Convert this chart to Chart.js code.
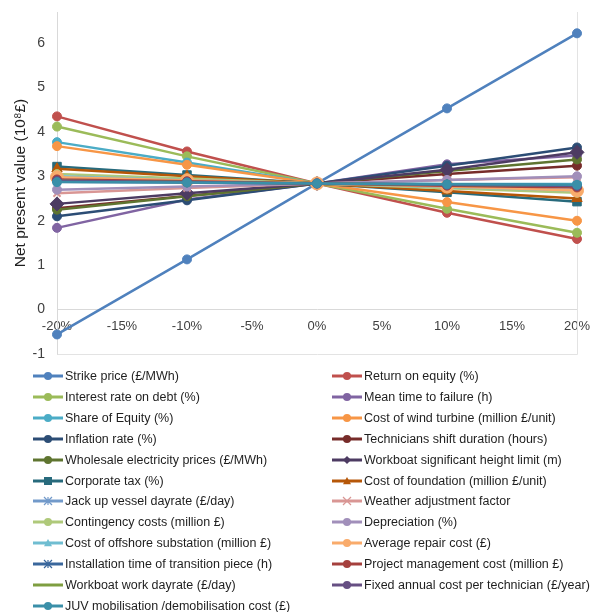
<!DOCTYPE html>
<html>
<head>
<meta charset="utf-8">
<script src="https://cdn.jsdelivr.net/npm/chart.js@4.4.1/dist/chart.umd.min.js"></script>
<style>
  html, body { margin: 0; padding: 0; background: #fff; }
  body { width: 594px; height: 612px; position: relative; overflow: hidden; font-family: "Liberation Sans", Arial, sans-serif; }
  #wrap { position: absolute; left: 0; top: 0; width: 594px; height: 362px; }
  #legend { position: absolute; left: 0; top: 0; width: 594px; height: 612px; pointer-events: none; }
  .item { position: absolute; height: 20px; display: flex; align-items: center; font-size: 12.5px; color: #1e1e1e; white-space: nowrap; }
  .item canvas { width: 30px; height: 14px; margin-right: 2px; }
</style>
</head>
<body>
<div id="wrap"><canvas id="c"></canvas></div>
<div id="legend"></div>
<script>
// ---- Data (x = change of parameter in %, y = net present value in 10^8 £) ----
const changes = [-20, -10, 0, 10, 20];
const xTickValues = [-20, -15, -10, -5, 0, 5, 10, 15, 20];
const yTickValues = [-1, 0, 1, 2, 3, 4, 5, 6];

const strikePrice        = [-0.56, 1.13, 2.84, 4.53, 6.22];
const returnOnEquity     = [4.35, 3.56, 2.84, 2.18, 1.59];
const interestRateDebt   = [4.12, 3.45, 2.84, 2.27, 1.73];
const meanTimeToFailure  = [1.84, 2.48, 2.84, 3.27, 3.47];
const shareOfEquity      = [3.77, 3.31, 2.84, 2.83, 2.83];
const costWindTurbine    = [3.68, 3.26, 2.84, 2.42, 2.00];
const inflationRate      = [2.10, 2.46, 2.84, 3.24, 3.65];
const techShiftDuration  = [2.28, 2.56, 2.84, 3.05, 3.24];
const wholesalePrices    = [2.25, 2.55, 2.84, 3.12, 3.38];
const workboatHeight     = [2.38, 2.62, 2.84, 3.15, 3.54];
const corporateTax       = [3.22, 3.03, 2.84, 2.64, 2.43];
const costFoundation     = [3.17, 3.00, 2.84, 2.67, 2.50];
const jackUpDayrate      = [2.92, 2.88, 2.84, 2.80, 2.76];
const weatherFactor      = [2.62, 2.74, 2.84, 2.92, 2.98];
const contingencyCosts   = [3.05, 2.95, 2.84, 2.73, 2.63];
const depreciation       = [2.70, 2.77, 2.84, 2.92, 3.00];
const costSubstation     = [3.00, 2.92, 2.84, 2.76, 2.68];
const avgRepairCost      = [2.98, 2.91, 2.84, 2.77, 2.68];
const installTimeTP      = [2.88, 2.86, 2.84, 2.82, 2.80];
const projectMgmtCost    = [2.93, 2.89, 2.84, 2.79, 2.75];
const workboatDayrate    = [2.90, 2.87, 2.84, 2.81, 2.78];
const fixedCostTech      = [2.90, 2.87, 2.84, 2.81, 2.78];
const juvMobilisation    = [2.87, 2.86, 2.84, 2.82, 2.81];

const series = [
  { name: "Strike price (£/MWh)", data: strikePrice, color: "#4F81BD", shape: "circle", r: 4.5 },
  { name: "Return on equity (%)", data: returnOnEquity, color: "#C0504D", shape: "circle", r: 4.5 },
  { name: "Interest rate on debt (%)", data: interestRateDebt, color: "#9BBB59", shape: "circle", r: 4.5 },
  { name: "Mean time to failure (h)", data: meanTimeToFailure, color: "#8064A2", shape: "circle", r: 4.5 },
  { name: "Share of Equity (%)", data: shareOfEquity, color: "#4BACC6", shape: "circle", r: 4.5 },
  { name: "Cost of wind turbine (million £/unit)", data: costWindTurbine, color: "#F79646", shape: "circle", r: 4.5 },
  { name: "Inflation rate (%)", data: inflationRate, color: "#2C4D75", shape: "circle", r: 4.5 },
  { name: "Technicians shift duration (hours)", data: techShiftDuration, color: "#772C2A", shape: "circle", r: 4.5 },
  { name: "Wholesale electricity prices (£/MWh)", data: wholesalePrices, color: "#5F7530", shape: "circle", r: 4.5 },
  { name: "Workboat significant height limit (m)", data: workboatHeight, color: "#4D3B62", shape: "rectRot", r: 7 },
  { name: "Corporate tax (%)", data: corporateTax, color: "#276A7C", shape: "rect", r: 6 },
  { name: "Cost of foundation (million £/unit)", data: costFoundation, color: "#B65708", shape: "triangle", r: 6 },
  { name: "Jack up vessel dayrate (£/day)", data: jackUpDayrate, color: "#729ACA", shape: "star", r: 5 },
  { name: "Weather adjustment factor", data: weatherFactor, color: "#D99694", shape: "crossRot", r: 5 },
  { name: "Contingency costs (million £)", data: contingencyCosts, color: "#AFC97A", shape: "circle", r: 4.5 },
  { name: "Depreciation (%)", data: depreciation, color: "#A18FBA", shape: "circle", r: 4.5 },
  { name: "Cost of offshore substation (million £)", data: costSubstation, color: "#6FBDD1", shape: "triangle", r: 5 },
  { name: "Average repair cost (£)", data: avgRepairCost, color: "#F9AB6B", shape: "circle", r: 6.5 },
  { name: "Installation time of transition piece (h)", data: installTimeTP, color: "#3A679C", shape: "star", r: 5 },
  { name: "Project management cost (million £)", data: projectMgmtCost, color: "#A5403D", shape: "circle", r: 4.5 },
  { name: "Workboat work dayrate (£/day)", data: workboatDayrate, color: "#7E9E40", shape: "none", r: 0 },
  { name: "Fixed annual cost per technician (£/year)", data: fixedCostTech, color: "#664F83", shape: "circle", r: 4.5 },
  { name: "JUV mobilisation /demobilisation cost (£)", data: juvMobilisation, color: "#3A8FA8", shape: "circle", r: 4.5 }
];

const n = series.length;
const datasets = series.map((s, i) => ({
  label: s.name,
  data: changes.map((x, k) => ({ x: x, y: s.data[k] })),
  borderColor: s.color,
  backgroundColor: s.color,
  pointBackgroundColor: s.color,
  pointBorderColor: s.color,
  pointStyle: s.shape === "none" ? false : s.shape,
  pointRadius: s.r,
  pointBorderWidth: (s.shape === "star" || s.shape === "crossRot") ? 2 : 1,
  borderWidth: 2.5,
  tension: 0,
  clip: false,
  order: n - i
}));

const frame = {
  id: "frame",
  beforeDatasetsDraw(chart) {
    const { ctx, chartArea: a } = chart;
    ctx.save();
    ctx.strokeStyle = "#e3e3e3";
    ctx.lineWidth = 1;
    ctx.beginPath();
    ctx.moveTo(a.left + 0.5, a.bottom + 0.5);
    ctx.lineTo(a.right + 0.5, a.bottom + 0.5);
    ctx.lineTo(a.right + 0.5, a.top);
    ctx.stroke();
    ctx.restore();
  }
};

new Chart(document.getElementById("c"), {
  type: "line",
  data: { datasets },
  plugins: [frame],
  options: {
    responsive: true,
    maintainAspectRatio: false,
    animation: false,
    layout: { padding: { top: 12, right: 17, left: 11, bottom: 0 } },
    plugins: { legend: { display: false }, tooltip: { enabled: false } },
    scales: {
      x: {
        type: "linear",
        position: { y: 0 },
        min: -20, max: 20,
        afterBuildTicks: (s) => { s.ticks = xTickValues.map(v => ({ value: v })); },
        afterFit: (s) => { s.paddingLeft = 0; s.paddingRight = 0; },
        grid: { display: false, drawTicks: false },
        border: { display: true, color: "#d9d9d9", width: 1 },
        ticks: {
          color: "#404040",
          font: { family: "Liberation Sans", size: 13 },
          padding: 9,
          maxRotation: 0,
          autoSkip: false,
          callback: (v) => v + "%"
        }
      },
      y: {
        type: "linear",
        min: -1, max: 6.7,
        afterBuildTicks: (s) => { s.ticks = yTickValues.map(v => ({ value: v })); },
        afterFit: (s) => { s.width = 46; s.paddingTop = 0; s.paddingBottom = 0; },
        grid: { display: false, drawTicks: false },
        border: { display: true, color: "#d9d9d9", width: 1 },
        ticks: {
          color: "#404040",
          font: { family: "Liberation Sans", size: 14 },
          padding: 12
        },
        title: {
          display: true,
          text: "Net present value (10⁸£)",
          color: "#1e1e1e",
          font: { family: "Liberation Sans", size: 15.5 },
          padding: { top: 0, bottom: 6 }
        }
      }
    }
  }
});

// ---- HTML legend, two columns, row-major order ----
function drawMarker(ctx, shape, x, y, r, color) {
  ctx.fillStyle = color; ctx.strokeStyle = color;
  ctx.beginPath();
  if (shape === "circle") { ctx.arc(x, y, r, 0, Math.PI * 2); ctx.fill(); }
  else if (shape === "rect") { ctx.fillRect(x - r, y - r, 2 * r, 2 * r); }
  else if (shape === "rectRot") { ctx.moveTo(x, y - r); ctx.lineTo(x + r, y); ctx.lineTo(x, y + r); ctx.lineTo(x - r, y); ctx.closePath(); ctx.fill(); }
  else if (shape === "triangle") { ctx.moveTo(x, y - r); ctx.lineTo(x + r, y + r * 0.8); ctx.lineTo(x - r, y + r * 0.8); ctx.closePath(); ctx.fill(); }
  else if (shape === "crossRot") { ctx.lineWidth = 1.2; ctx.moveTo(x - r, y - r); ctx.lineTo(x + r, y + r); ctx.moveTo(x + r, y - r); ctx.lineTo(x - r, y + r); ctx.stroke(); }
  else if (shape === "star") { ctx.lineWidth = 1.2; ctx.moveTo(x - r, y - r); ctx.lineTo(x + r, y + r); ctx.moveTo(x + r, y - r); ctx.lineTo(x - r, y + r); ctx.moveTo(x, y - r); ctx.lineTo(x, y + r); ctx.stroke(); }
}
const legend = document.getElementById("legend");
series.forEach((s, i) => {
  const col = i % 2, row = Math.floor(i / 2);
  const div = document.createElement("div");
  div.className = "item";
  div.style.left = (col === 0 ? 33 : 332) + "px";
  div.style.top = (366 + row * 20.9) + "px";
  const cv = document.createElement("canvas");
  cv.width = 30; cv.height = 14;
  const ctx = cv.getContext("2d");
  ctx.strokeStyle = s.color; ctx.lineWidth = 3;
  ctx.beginPath(); ctx.moveTo(0, 7); ctx.lineTo(30, 7); ctx.stroke();
  drawMarker(ctx, s.shape, 15, 7, Math.min(s.r, 4), s.color);
  div.appendChild(cv);
  const t = document.createElement("span");
  t.textContent = s.name;
  div.appendChild(t);
  legend.appendChild(div);
});
</script>
</body>
</html>
